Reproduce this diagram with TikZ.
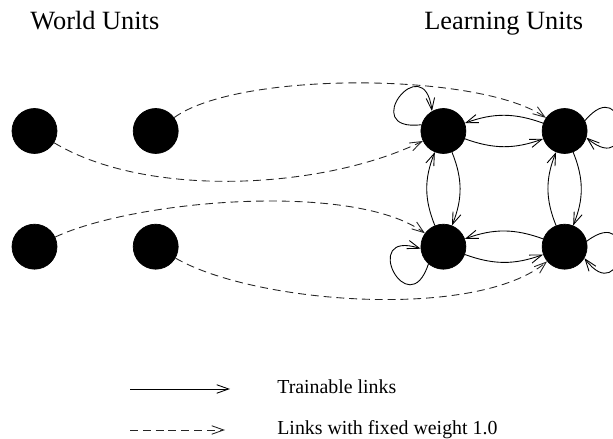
\documentclass[tikz,border=0pt]{standalone}
\usepackage{fontspec}
\setmainfont{Liberation Serif}
\usepackage{tikz}
\usetikzlibrary{%
  arrows.meta,
  positioning}
\tikzset{
  %% Network units
  unitnode/.style={
    circle, draw=black, fill=black,
    minimum size=0.9cm, inner sep=0pt},
  %% Group headings
  headnode/.style={
    anchor=base west, inner sep=0pt,
    font=\fontsize{15}{18}\selectfont},
  %% Legend texts
  keynode/.style={
    anchor=base west, inner sep=0pt,
    font=\fontsize{11.3}{13.5}\selectfont},
  %% Arrows
  trainarrow/.style={-{Straight Barb[length=2.4mm, width=1.7mm]}, line width=0.5pt, black},
  fixedarrow/.style={trainarrow, dash pattern=on 4.5pt off 2.8pt, black!85},
  selfloop/.style={trainarrow, distance=1.3cm},
}

\begin{document}
\begin{tikzpicture}[node distance=1.40cm and 1.51cm]
  \useasboundingbox (0,0) rectangle (12.26,8.78);

  %% World units
  \node[unitnode] (w1) at (0.69,6.16) {};
  \node[unitnode, right=of w1] (w2) {};
  \node[unitnode, below=of w1] (w3) {};
  \node[unitnode, right=of w3] (w4) {};

  %% Learning units
  \node[unitnode, right=4.84cm of w2] (l1) {};
  \node[unitnode, right=of l1] (l2) {};
  \node[unitnode, below=of l1] (l3) {};
  \node[unitnode, right=of l3] (l4) {};

  %% Headings
  \node[headnode] (worldhead) at (0.60,8.18) {World Units};
  \node[headnode] (learnhead) at (8.48,8.18) {Learning Units};

  %% Fixed links, world -> learning
  \draw[fixedarrow] (w2) to[out=36, in=145, looseness=0.55] (l2);
  \draw[fixedarrow] (w1) to[out=-31, in=206, looseness=0.76] (l1);
  \draw[fixedarrow] (w3) to[out=25, in=144, looseness=0.61] (l3);
  \draw[fixedarrow] (w4) to[out=-30, in=220, looseness=0.63] (l4);

  %% Trainable links between learning units
  \draw[trainarrow] (l1) to[bend right=20] (l2);
  \draw[trainarrow] (l2) to[bend right=20] (l1);
  \draw[trainarrow] (l3) to[bend right=20] (l4);
  \draw[trainarrow] (l4) to[bend right=20] (l3);
  \draw[trainarrow] (l1) to[bend left=22] (l3);
  \draw[trainarrow] (l3) to[bend left=22] (l1);
  \draw[trainarrow] (l2) to[bend left=22] (l4);
  \draw[trainarrow] (l4) to[bend left=22] (l2);

  %% Self links
  \draw[selfloop] (l1.164) to[out=187, in=97] (l1.120);
  \draw[selfloop] (l2.27) to[out=50, in=-40] (l2.-17);
  \draw[selfloop] (l3.229) to[out=252, in=162] (l3.185);
  \draw[selfloop] (l4.14) to[out=37, in=-53] (l4.-30);

  %% Legend
  \coordinate (trainstart) at (2.60,1.00);
  \coordinate (trainend) at (4.60,1.00);
  \coordinate (fixedstart) at (2.60,0.18);
  \coordinate (fixedend) at (4.50,0.18);
  \draw[trainarrow] (trainstart) -- (trainend);
  \draw[fixedarrow] (fixedstart) -- (fixedend);
  \node[keynode] (trainkey) at (5.54,0.90) {Trainable links};
  \node[keynode] (fixedkey) at (5.54,0.08) {Links with fixed weight 1.0};

\end{tikzpicture}
\end{document}
